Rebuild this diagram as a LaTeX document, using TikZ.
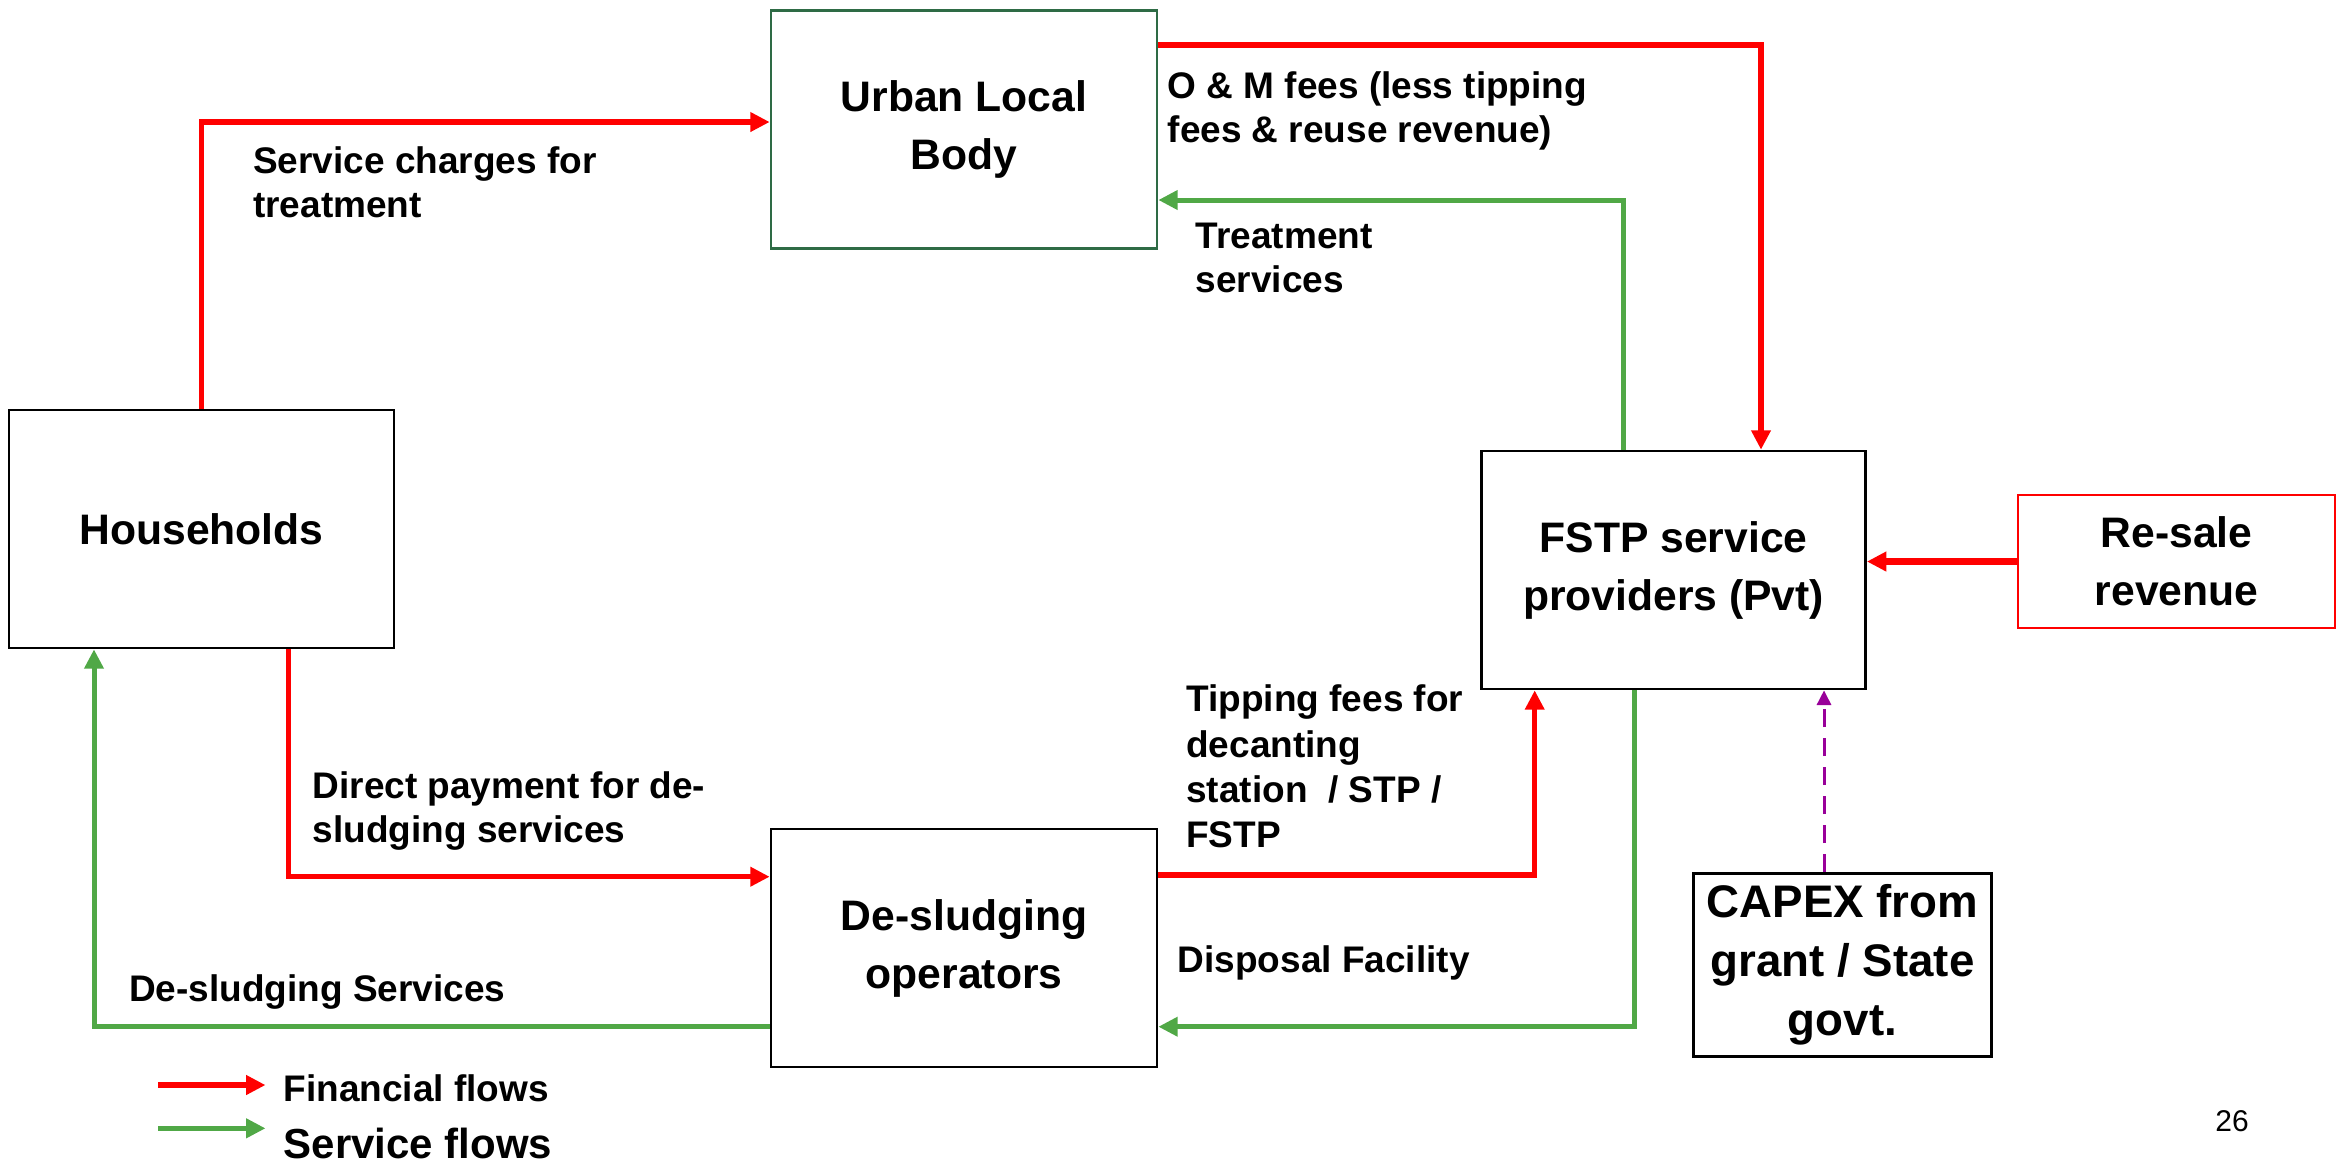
\documentclass[tikz,border=0pt]{standalone}
\usepackage{fontspec}
\setmainfont{Liberation Sans}
\usetikzlibrary{arrows.meta}
\definecolor{fred}{HTML}{FF0000}
\definecolor{fgreen}{HTML}{50A846}
\definecolor{ulbgreen}{HTML}{2E6B45}
\definecolor{fpurple}{HTML}{990099}
\newcommand{\twoline}[2]{\vtop{\hbox{#1}\hbox{#2}}}
\newcommand{\fourline}[4]{\vtop{\hbox{#1}\hbox{#2}\hbox{#3}\hbox{#4}}}
\begin{document}
\begin{tikzpicture}[x=0.3pt,y=-0.3pt,
  box/.style={draw=black, line width=0.8pt, rectangle, inner sep=0pt, align=center, font=\bfseries\fontsize{12.8}{17.4}\selectfont},
  lbl/.style={anchor=base west, inner sep=0pt, font=\bfseries\fontsize{11.1}{13.3}\selectfont},
  fin/.style={draw=fred, line width=1.6pt, -{Triangle[length=5.8pt,width=5.6pt]}},
  srv/.style={draw=fgreen, line width=1.5pt, -{Triangle[length=5.8pt,width=5.6pt]}},
  capflow/.style={draw=fpurple, line width=0.9pt, dash pattern=on 5.4pt off 3.3pt, -{Triangle[length=4.4pt,width=4.2pt]}},
]
\fill[white] (0,0) rectangle (2344,1167);
\useasboundingbox (0,0) rectangle (2344,1167);

% boxes
\node[box, draw=ulbgreen, minimum width=115.8pt, minimum height=71.4pt] (ulb) at (964,129.5) {Urban Local\\Body};
\node[box, minimum width=115.5pt, minimum height=71.4pt] (hh) at (201.5,529) {Households};
\node[box, minimum width=115.8pt, minimum height=71.4pt] (ds) at (964,948) {De-sludging\\operators};
\node[box, minimum width=115.2pt, minimum height=71.4pt] (fstp) at (1673.6,570) {FSTP service\\providers (Pvt)};
\node[box, draw=fred, minimum width=95.1pt, minimum height=39.9pt] (resale) at (2176.5,561.5) {Re-sale\\revenue};
\node[box, font=\bfseries\fontsize{13.7}{17.7}\selectfont, minimum width=89.4pt, minimum height=54.9pt] (capex) at (1842.5,965) {CAPEX from\\grant / State\\govt.};

% connectors
\draw[fin] (hh.north) |- (ulb.west |- 0,122);
\draw[fin] (ulb.east |- 0,45) -| (fstp.north -| 1761,0);
\draw[srv] (fstp.north -| 1623.6,0) |- (ulb.east |- 0,200);
\draw[fin, line width=2.1pt] (resale.west) -- (fstp.east |- resale.west);
\draw[fin] (hh.south -| 288.5,0) |- (ds.west |- 0,876.7);
\draw[fin] (ds.east |- 0,875) -| (fstp.south -| 1534.7,0);
\draw[srv] (fstp.south -| 1634.7,0) |- (ds.east |- 0,1026.7);
\draw[srv] (ds.west |- 0,1026.7) -| (hh.south -| 94,0);
\draw[capflow] (capex.north -| 1824,0) -- (fstp.south -| 1824,0);

% labels
\node[lbl] (l-sc) at (252.5,173) {\twoline{Service charges for}{treatment}};
\node[lbl] (l-om) at (1167,98) {\twoline{O \& M fees (less tipping}{fees \& reuse revenue)}};
\node[lbl] (l-ts) at (1195,248) {\twoline{Treatment}{services}};
\node[lbl] (l-dp) at (312,798) {\twoline{Direct payment for de-}{sludging services}};
\node[lbl, font=\bfseries\fontsize{11.1}{13.6}\selectfont] (l-tf) at (1185.7,711.7) {\fourline{Tipping fees for}{decanting}{station\ \ / STP /}{FSTP}};
\node[lbl] (l-df) at (1177,972.7) {Disposal Facility};
\node[lbl] (l-dss) at (128.6,1001.7) {De-sludging Services};

% legend
\coordinate (lg1a) at (158,1085);
\coordinate (lg1b) at (265.5,1085);
\coordinate (lg2a) at (158,1128.3);
\coordinate (lg2b) at (265.5,1128.3);
\draw[fin] (lg1a) -- (lg1b);
\draw[srv] (lg2a) -- (lg2b);
\node[lbl] (lg-fin) at (283,1101.7) {Financial flows};
\node[lbl, font=\bfseries\fontsize{12.6}{14}\selectfont] (lg-srv) at (283,1158) {Service flows};

% page number
\node[anchor=base, inner sep=0pt, font=\fontsize{9}{11}\selectfont] (pg) at (2232,1131.7) {26};
\end{tikzpicture}
\end{document}
